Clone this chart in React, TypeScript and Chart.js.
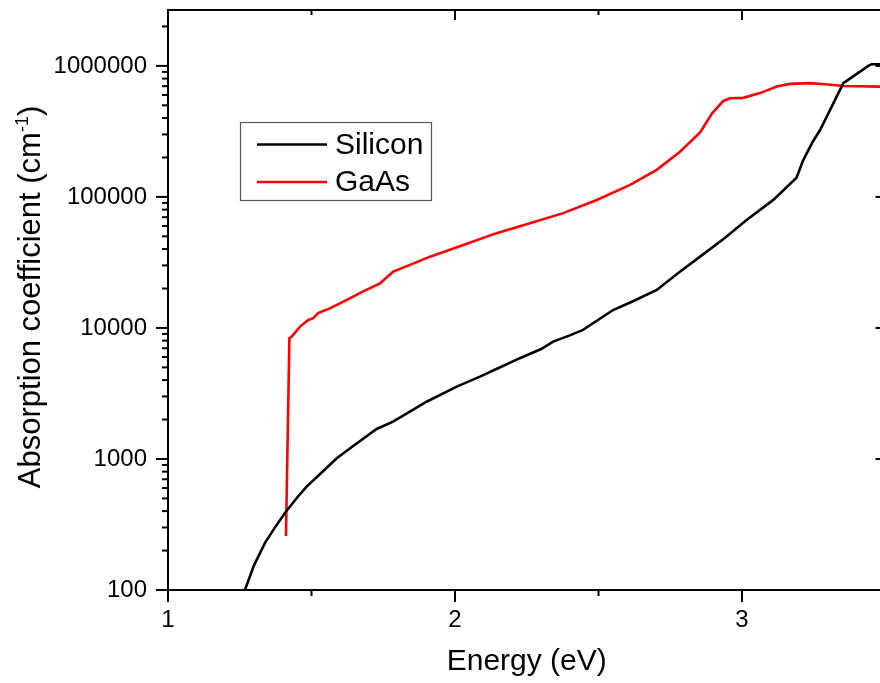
import React, { useEffect, useRef } from "react";
import { Chart, registerables } from "chart.js";

Chart.register(...registerables);

const FONT = "'Liberation Sans', Arial, sans-serif";

// Silicon absorption coefficient (cm^-1) vs photon energy (eV)
const siliconEnergy = [
  1.268, 1.3, 1.338, 1.37, 1.408, 1.45, 1.483, 1.53, 1.588, 1.65, 1.727, 1.784,
  1.85, 1.901, 2.006, 2.087, 2.15, 2.226, 2.3, 2.342, 2.4, 2.446, 2.551, 2.62,
  2.703, 2.78, 2.854, 2.94, 3.016, 3.109, 3.19, 3.213, 3.247, 3.272, 3.307,
  3.353, 3.4, 3.44, 3.452, 3.5,
];
const siliconAlpha = [
  100, 155, 229, 294, 389, 508, 615, 768, 1012, 1280, 1694, 1928, 2350, 2735,
  3564, 4249, 4920, 5877, 6900, 7866, 8770, 9666, 13700, 16000, 19500, 26500,
  35000, 48500, 66700, 94900, 140000, 190000, 265000, 324000, 461000, 738000,
  870000, 1000000, 1030000, 1030000,
];

// GaAs absorption coefficient (cm^-1) vs photon energy (eV)
const gaasEnergy = [
  1.411, 1.423, 1.431, 1.46, 1.489, 1.506, 1.523, 1.564, 1.623, 1.68, 1.739,
  1.785, 1.843, 1.913, 2.029, 2.145, 2.261, 2.377, 2.494, 2.61, 2.703, 2.784,
  2.854, 2.896, 2.935, 2.958, 3.004, 3.063, 3.121, 3.167, 3.237, 3.3, 3.353,
  3.481, 3.5,
];
const gaasAlpha = [
  258, 8340, 8600, 10240, 11500, 11860, 13000, 14100, 16400, 19000, 21900,
  26900, 30300, 35000, 43000, 52900, 63000, 75200, 94800, 123500, 160800,
  221000, 310000, 435000, 540000, 566000, 570000, 620000, 695000, 729000,
  738000, 720000, 703000, 695000, 695000,
];

const seriesNames = ["Silicon", "GaAs"];
const seriesColors = ["#000000", "#ff0000"];

const xMajorTicks = [1, 2, 3];
const xMinorTicks = [1.5, 2.5, 3.5];
const yMajorTicks = [100, 1000, 10000, 100000, 1000000];
const yMinorTicks = [
  200, 300, 400, 500, 600, 700, 800, 900,
  2000, 3000, 4000, 5000, 6000, 7000, 8000, 9000,
  20000, 30000, 40000, 50000, 60000, 70000, 80000, 90000,
  200000, 300000, 400000, 500000, 600000, 700000, 800000, 900000,
  2000000,
];

const xTitle = "Energy (eV)";
const yTitleMain = "Absorption coefficient (cm";
const yTitleSup = "-1";
const yTitleEnd = ")";

const decorPlugin = {
  id: "decor",
  afterDraw(chart: any) {
    const { ctx, chartArea, scales } = chart;
    const { left, right, top, bottom } = chartArea;
    const xs = scales.x;
    const ys = scales.y;
    ctx.save();
    ctx.strokeStyle = "#000";
    ctx.lineWidth = 2;
    ctx.lineCap = "butt";
    ctx.strokeRect(left, top, right - left, bottom - top);

    const line = (x1: number, y1: number, x2: number, y2: number) => {
      ctx.beginPath();
      ctx.moveTo(x1, y1);
      ctx.lineTo(x2, y2);
      ctx.stroke();
    };
    // bottom (outward) and top (inward) ticks
    xMajorTicks.forEach((v) => {
      const p = xs.getPixelForValue(v);
      line(p, bottom, p, bottom + 12);
      line(p, top, p, top + 10);
    });
    xMinorTicks.forEach((v) => {
      const p = xs.getPixelForValue(v);
      line(p, bottom, p, bottom + 6);
      line(p, top, p, top + 5);
    });
    // left (outward) and right (inward) ticks
    yMajorTicks.forEach((v) => {
      const p = ys.getPixelForValue(v);
      line(left - 12, p, left, p);
      line(right - 10, p, right, p);
    });
    yMinorTicks.forEach((v) => {
      const p = ys.getPixelForValue(v);
      if (p < top - 0.5) return;
      line(left - 6, p, left, p);
      line(right - 5, p, right, p);
    });

    // legend
    ctx.lineWidth = 1.2;
    ctx.strokeStyle = "#555";
    ctx.strokeRect(240.5, 122.5, 191, 78);
    const rows = [144.5, 182];
    seriesNames.forEach((name, i) => {
      ctx.strokeStyle = seriesColors[i];
      ctx.lineWidth = 2.5;
      line(257, rows[i], 327, rows[i]);
      ctx.fillStyle = "#000";
      ctx.font = `30px ${FONT}`;
      ctx.textBaseline = "middle";
      ctx.textAlign = "left";
      ctx.fillText(name, 335, rows[i] + 1);
    });

    // y axis title with superscript
    ctx.fillStyle = "#000";
    ctx.textAlign = "left";
    ctx.textBaseline = "alphabetic";
    const mainFont = `31px ${FONT}`;
    const supFont = `18px ${FONT}`;
    ctx.font = mainFont;
    const w1 = ctx.measureText(yTitleMain).width;
    const w3 = ctx.measureText(yTitleEnd).width;
    ctx.font = supFont;
    const w2 = ctx.measureText(yTitleSup).width;
    const total = w1 + w2 + w3;
    const cy = 297;
    ctx.translate(40, cy);
    ctx.rotate(-Math.PI / 2);
    let x0 = -total / 2;
    ctx.font = mainFont;
    ctx.fillText(yTitleMain, x0, 0);
    x0 += w1;
    ctx.font = supFont;
    ctx.fillText(yTitleSup, x0, -12);
    x0 += w2;
    ctx.font = mainFont;
    ctx.fillText(yTitleEnd, x0, 0);
    ctx.restore();
  },
};

export default function App() {
  const canvasRef = useRef<HTMLCanvasElement | null>(null);

  useEffect(() => {
    if (!canvasRef.current) return;
    const chart = new Chart(canvasRef.current, {
      type: "line",
      data: {
        datasets: [
          {
            label: seriesNames[0],
            data: siliconEnergy.map((e, i) => ({ x: e, y: siliconAlpha[i] })),
            borderColor: seriesColors[0],
            borderWidth: 2.6,
            pointRadius: 0,
            tension: 0,
            fill: false,
          },
          {
            label: seriesNames[1],
            data: gaasEnergy.map((e, i) => ({ x: e, y: gaasAlpha[i] })),
            borderColor: seriesColors[1],
            borderWidth: 2.6,
            pointRadius: 0,
            tension: 0,
            fill: false,
          },
        ],
      },
      options: {
        responsive: false,
        animation: false,
        layout: { padding: { left: 0, right: 14.5, top: 10, bottom: 0 } },
        plugins: {
          legend: { display: false },
          tooltip: { enabled: false },
        },
        scales: {
          x: {
            type: "linear",
            min: 1,
            max: 3.5,
            grid: { display: false, drawTicks: false },
            border: { display: false },
            afterBuildTicks: (s: any) => {
              s.ticks = xMajorTicks.map((v) => ({ value: v }));
            },
            afterFit: (s: any) => {
              s.height = 93;
              s.paddingLeft = 0;
              s.paddingRight = 0;
              s.paddingTop = 0;
              s.paddingBottom = 0;
            },
            ticks: {
              autoSkip: false,
              maxRotation: 0,
              padding: 16,
              color: "#000",
              font: { family: FONT, size: 24 },
              callback: (v: any) => String(v),
            },
            title: {
              display: true,
              text: xTitle,
              color: "#000",
              font: { family: FONT, size: 30 },
              padding: { top: 0, bottom: 3 },
            },
          },
          y: {
            type: "logarithmic",
            min: 100,
            max: 2670000,
            grid: { display: false, drawTicks: false },
            border: { display: false },
            afterBuildTicks: (s: any) => {
              s.ticks = yMajorTicks.map((v) => ({ value: v }));
            },
            afterFit: (s: any) => {
              s.width = 168;
              s.paddingLeft = 0;
              s.paddingRight = 0;
              s.paddingTop = 0;
              s.paddingBottom = 0;
            },
            ticks: {
              autoSkip: false,
              padding: 21,
              color: "#000",
              font: { family: FONT, size: 24 },
              callback: (v: any) => String(v),
            },
          },
        },
      },
      plugins: [decorPlugin],
    });
    return () => chart.destroy();
  }, []);

  return (
    <div
      style={{
        position: "fixed",
        left: 0,
        top: 0,
        width: 880,
        height: 683,
        overflow: "hidden",
        background: "#fff",
      }}
    >
      <canvas ref={canvasRef} width={900} height={683} style={{ display: "block" }} />
    </div>
  );
}
